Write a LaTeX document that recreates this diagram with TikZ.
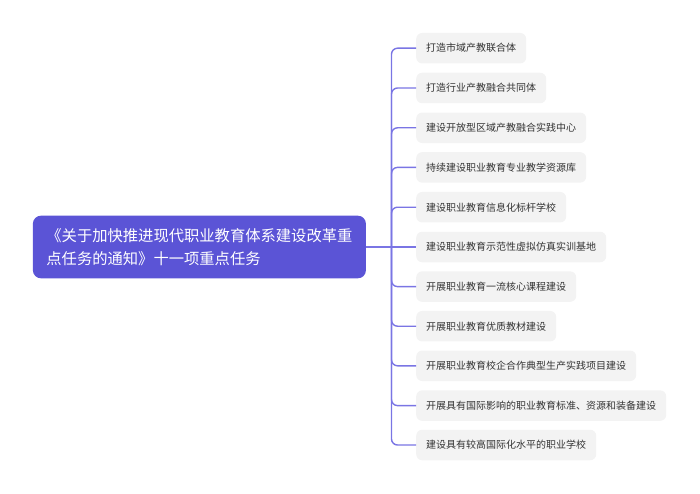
\documentclass[tikz,border=0pt]{standalone}
\usepackage{fontspec}
\newfontfamily\cjk{Noto Sans CJK SC}
\definecolor{rootfill}{RGB}{91,84,214}
\definecolor{linkcol}{RGB}{122,117,228}
\definecolor{leaffill}{RGB}{243,243,243}
\definecolor{leaftext}{RGB}{51,51,51}
\tikzset{
  rootbox/.style={draw=none, fill=rootfill, rounded corners=8pt, text=white,
    font=\cjk\fontsize{15.3}{23.5}\selectfont, align=left, text width=306pt,
    inner xsep=13.5pt, inner ysep=0pt, minimum height=62.6pt, anchor=west},
  leafbox/.style={draw=none, fill=leaffill, rounded corners=6pt, text=leaftext,
    font=\cjk\fontsize{10}{12}\selectfont, inner xsep=10pt, inner ysep=0pt,
    minimum height=30.5pt, anchor=west},
  link/.style={draw=linkcol, line width=1.4pt, rounded corners=6pt}
}
\begin{document}
\begin{tikzpicture}[x=1pt, y=-1pt]
\useasboundingbox (0,0) rectangle (700,494);
\node[rootbox] (root) at (32.7,247) {《关于加快推进现代职业教育体系建设改革重\\点任务的通知》十一项重点任务};
\node[leafbox] (l1) at (416,48.2) {打造市域产教联合体};
\node[leafbox] (l2) at (416,88) {打造行业产教融合共同体};
\node[leafbox] (l3) at (416,127.8) {建设开放型区域产教融合实践中心};
\node[leafbox] (l4) at (416,167.4) {持续建设职业教育专业教学资源库};
\node[leafbox] (l5) at (416,207.2) {建设职业教育信息化标杆学校};
\node[leafbox] (l6) at (416,247) {建设职业教育示范性虚拟仿真实训基地};
\node[leafbox] (l7) at (416,286.6) {开展职业教育一流核心课程建设};
\node[leafbox] (l8) at (416,326.2) {开展职业教育优质教材建设};
\node[leafbox] (l9) at (416,365.8) {开展职业教育校企合作典型生产实践项目建设};
\node[leafbox] (l10) at (416,405.6) {开展具有国际影响的职业教育标准、资源和装备建设};
\node[leafbox] (l11) at (416,445) {建设具有较高国际化水平的职业学校};
\coordinate (j) at (391.5,247);
\draw[link] (root.east) -- (l6.west);
\foreach \n in {l1,l2,l3,l4,l5,l7,l8,l9,l10,l11}{
  \draw[link] (j) |- (\n.west);
}
\end{tikzpicture}
\end{document}
